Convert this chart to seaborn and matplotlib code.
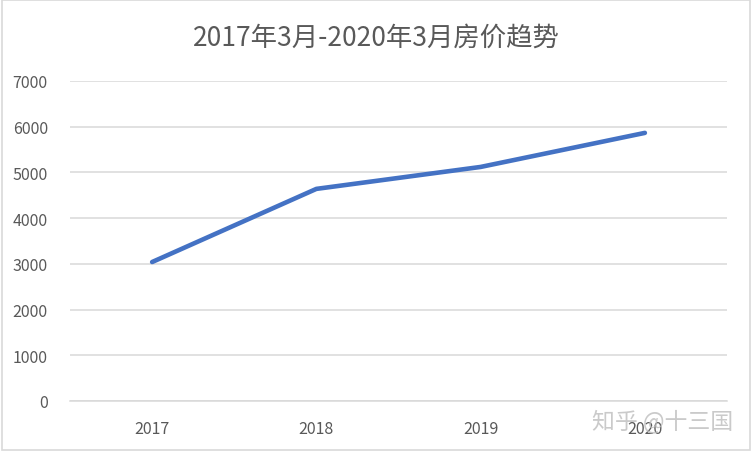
import pandas as pd
import seaborn as sns
import matplotlib.pyplot as plt
from matplotlib.patches import Rectangle

# data
years = ['2017', '2018', '2019', '2020']
prices = [3040, 4640, 5120, 5865]
y_ticks = [0, 1000, 2000, 3000, 4000, 5000, 6000, 7000]

TITLE = '2017年3月-2020年3月房价趋势'
WATERMARK = '知乎 @十三国'

sns.set_style('white')
plt.rcParams['font.family'] = ['Noto Sans CJK SC', 'DejaVu Sans']

df = pd.DataFrame({'year': years, 'price': prices})

fig = plt.figure(figsize=(7.52, 4.52), dpi=100)
ax = fig.add_axes([70 / 752, 50 / 452, 657 / 752, 320 / 452])

sns.lineplot(data=df, x='year', y='price', ax=ax, color='#4472C4',
             linewidth=3.3, sort=False, solid_capstyle='round')

ax.set_xlim(-0.5, len(years) - 0.5)
ax.set_ylim(0, 7000)
ax.set_yticks(y_ticks)
ax.yaxis.grid(True, color='#D9D9D9', linewidth=1.1)
ax.set_axisbelow(True)
for side in ['top', 'right', 'left']:
    ax.spines[side].set_visible(False)
ax.spines['bottom'].set_color('#D9D9D9')
ax.spines['bottom'].set_linewidth(1.1)
ax.tick_params(axis='both', length=0, labelsize=11.5, colors='#595959')
ax.tick_params(axis='x', pad=14)
ax.tick_params(axis='y', pad=16)
ax.set_xlabel('')
ax.set_ylabel('')

fig.text(0.5, 1 - 38 / 452, TITLE, ha='center', va='center',
         fontsize=19, color='#595959')

# outer frame, like the exported chart area
fig.patches.append(Rectangle((0.002, 0.003), 0.995, 0.994, transform=fig.transFigure,
                             fill=False, edgecolor='#D9D9D9', linewidth=1.2))

# watermark
fig.text(663 / 752, 1 - 421 / 452, WATERMARK, ha='center', va='center',
         fontsize=16.5, color='#BDBDBD', alpha=0.8)

fig.savefig('out.png', dpi=100)
